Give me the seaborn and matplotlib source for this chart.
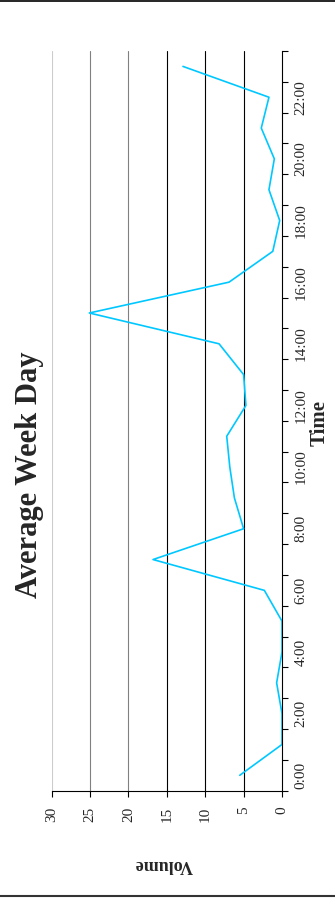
import matplotlib
matplotlib.use('Agg')
import matplotlib.pyplot as plt
import seaborn as sns
import pandas as pd
import numpy as np
from matplotlib.lines import Line2D

# ── Data ──────────────────────────────────────────────────────────────────────
HOURS  = [f'{h}:00' for h in range(24)]
VOLUME = [5.5, 0.0, 0.0, 0.7, 0.0, 0.0, 2.3, 16.8, 5.0, 6.2, 6.8, 7.2,
          4.7, 5.0, 8.2, 25.1, 6.9, 1.2, 0.3, 1.7, 1.0, 2.7, 1.7, 12.9]
VOL_TICKS  = [0, 5, 10, 15, 20, 25, 30]
GRID_COLORS = ['#000000', '#000000', '#000000', '#808080', '#808080', '#cccccc']

TITLE = 'Average Week Day'
LINE_COLOR = '#00c8ff'
SERIF = ['Liberation Serif', 'DejaVu Serif']

sns.set_style('white')
plt.rcParams['font.family'] = SERIF

df = pd.DataFrame({'hour': np.arange(len(HOURS)), 'volume': VOLUME})

W, H = 335, 899
fig = plt.figure(figsize=(W / 100, H / 100), dpi=100)
ax = fig.add_axes([51.7 / W, 108.3 / H, 230.3 / W, 739.7 / H])

sns.lineplot(data=df, x='volume', y='hour', sort=False, estimator=None,
             color=LINE_COLOR, linewidth=1.2, ax=ax)

# value axis runs right-to-left (chart is turned on its side)
ax.set_xlim(30, 0)
ax.set_ylim(-0.5, len(HOURS) - 0.5)

for v, c in zip(VOL_TICKS[1:], GRID_COLORS):
    ax.axvline(v, color=c, linewidth=0.8, zorder=0)

# time axis on the right, category-style ticks between labels
ax.yaxis.tick_right()
ax.set_yticks(np.arange(len(HOURS) + 1) - 0.5)
ax.set_yticklabels([])
ax.set_yticks(np.arange(0, len(HOURS), 2), minor=True)
ax.set_yticklabels(HOURS[::2], minor=True, rotation=90, va='center',
                   fontsize=11, family=SERIF)
ax.tick_params(axis='y', which='major', direction='out', length=4, width=0.8,
               color='black', right=True, left=False)
ax.tick_params(axis='y', which='minor', length=0, pad=9, right=True, left=False)

ax.set_xticks(VOL_TICKS)
ax.set_xticklabels([str(v) for v in VOL_TICKS], rotation=90, fontsize=11,
                   family=SERIF)
ax.tick_params(axis='x', direction='out', length=4.5, width=0.8, color='black',
               pad=7, bottom=True)

for s in ['left', 'top']:
    ax.spines[s].set_visible(False)
for s in ['right', 'bottom']:
    ax.spines[s].set_visible(True)
    ax.spines[s].set_color('black')
    ax.spines[s].set_linewidth(0.8)

ax.set_xlabel('')
ax.set_ylabel('')

fig.text(320 / W, 1 - 423 / H, 'Time', rotation=90, ha='center', va='center',
         fontsize=15, fontweight='bold', family=SERIF)
fig.text(164 / W, 1 - 864 / H, 'Volume', rotation=180, ha='center', va='center',
         fontsize=13, fontweight='bold', family=SERIF)
fig.text(30 / W, 1 - 475 / H, TITLE, rotation=90, ha='center', va='center',
         fontsize=22, fontweight='bold', family=SERIF)

# page borders
fig.add_artist(Line2D([0, 1], [1 - 0.8 / H, 1 - 0.8 / H], color='black',
                      linewidth=1.2, transform=fig.transFigure))
fig.add_artist(Line2D([0, 1], [1 - 896 / H, 1 - 896 / H], color='#333333',
                      linewidth=1.5, transform=fig.transFigure))

fig.savefig('out.png', dpi=100)
